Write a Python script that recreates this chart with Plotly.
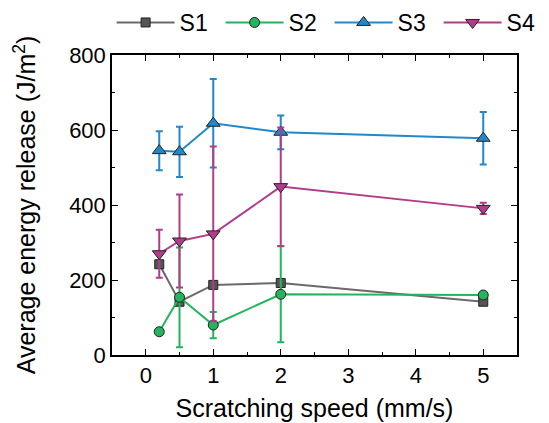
import plotly.graph_objects as go

speed = [0.2, 0.5, 1, 2, 5]

s1 = [242, 142, 187, 192, 142]
s1_err = [6, 5, 5, 5, 5]
s2 = [62, 154, 80, 162, 160]
s2_err = [4, 133, 35, 128, 5]
s3 = [545, 542, 618, 594, 578]
s3_err = [52, 67, 118, 45, 70]
s4 = [270, 304, 323, 449, 391]
s4_err = [64, 124, 233, 158, 15]

names = ["S1", "S2", "S3", "S4"]
values = [s1, s2, s3, s4]
errors = [s1_err, s2_err, s3_err, s4_err]
line_colors = ["#6a6a6a", "#24b45c", "#2189c9", "#b23c8c"]
fill_colors = ["#555555", "#24b45c", "#2189c9", "#b23c8c"]
symbols = ["square", "circle", "triangle-up", "triangle-down"]
sizes = [9, 10, 12, 12]

FONT = "Liberation Sans, Arial, sans-serif"

fig = go.Figure()
for n, v, e, lc, fc, sym, sz in zip(names, values, errors, line_colors, fill_colors, symbols, sizes):
    fig.add_trace(go.Scatter(
        x=speed, y=v, name=n, mode="lines+markers",
        line=dict(color=lc, width=2),
        marker=dict(symbol=sym, size=sz, color=fc, line=dict(color="#222222", width=1)),
        error_y=dict(type="data", array=e, visible=True, color=lc, thickness=2, width=3.5),
    ))

axis_common = dict(
    showline=True, linecolor="black", linewidth=1.5, mirror="allticks",
    ticks="inside", ticklen=6, tickwidth=1.2, tickcolor="black",
    showgrid=False, zeroline=False,
    tickfont=dict(family=FONT, size=22, color="black"),
)

fig.update_xaxes(
    range=[-0.5, 5.5], dtick=1, tick0=0,
    minor=dict(ticks="inside", dtick=0.5, ticklen=3.5, tickwidth=1.2, tickcolor="black"),
    title=dict(text="Scratching speed (mm/s)", font=dict(family=FONT, size=25, color="black"), standoff=12),
    **axis_common,
)
fig.update_yaxes(
    range=[0, 800], dtick=200, tick0=0,
    minor=dict(ticks="inside", dtick=100, ticklen=3.5, tickwidth=1.2, tickcolor="black"),
    title=dict(text="Average energy release (J/m<sup>2</sup>)", font=dict(family=FONT, size=25, color="black"), standoff=26),
    **axis_common,
)

fig.update_layout(
    width=549, height=423,
    margin=dict(l=112, r=32, t=55, b=68, autoexpand=False),
    paper_bgcolor="white", plot_bgcolor="white",
    font=dict(family=FONT, color="black"),
    showlegend=True,
    legend=dict(
        orientation="h", xref="paper", yref="paper",
        x=-0.001, y=1 + (55 - 1) / 300, xanchor="left", yanchor="top",
        font=dict(family=FONT, size=23, color="black"),
        itemwidth=58, entrywidth=36, entrywidthmode="pixels",
        bgcolor="rgba(0,0,0,0)", borderwidth=0,
    ),
)

fig.write_html("out.html", config={"displayModeBar": False},
               post_script="document.body.style.margin='0';")
